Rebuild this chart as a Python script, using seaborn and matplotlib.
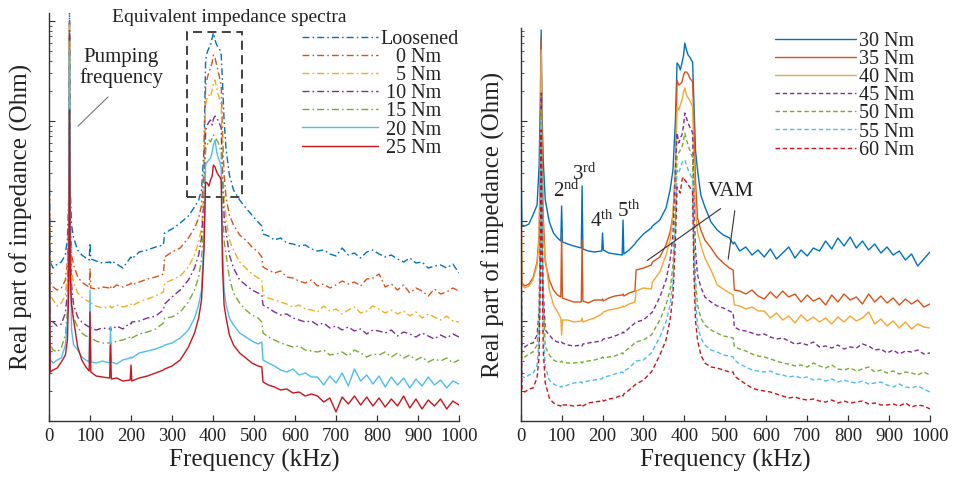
import numpy as np
import matplotlib
matplotlib.use("Agg")
import matplotlib.pyplot as plt
from matplotlib.patches import Rectangle
from matplotlib.ticker import LogLocator, NullFormatter, MultipleLocator
import seaborn as sns

# Frequency grids (kHz)
LEFT_FREQ = [0, 3, 10, 20, 30, 40, 45, 48, 50, 52,
             55, 60, 70, 80, 90, 98, 100, 102, 115, 130,
             148, 150, 152, 165, 180, 198, 200, 202, 220, 240,
             260, 279, 282, 300, 320, 340, 355, 365, 372, 378,
             382, 386, 390, 394, 398, 401, 405, 409, 413, 417,
             420, 423, 427, 432, 440, 450, 465, 480, 495, 510,
             519, 522, 535, 550, 565, 580, 595, 610, 625, 640,
             655, 670, 685, 700, 715, 730, 745, 760, 775, 790,
             805, 820, 835, 850, 865, 880, 895, 910, 925, 940,
             955, 970, 985, 1000]

RIGHT_FREQ = [0, 3, 10, 20, 30, 40, 45, 48, 50, 52,
              55, 60, 70, 80, 90, 98, 100, 102, 115, 130,
              148, 150, 152, 165, 180, 198, 200, 202, 215, 230,
              248, 250, 252, 265, 279, 282, 300, 319, 322, 340,
              355, 365, 372, 378, 382, 386, 390, 394, 398, 401,
              405, 409, 413, 417, 420, 423, 427, 432, 440, 450,
              465, 480, 495, 510, 519, 522, 535, 550, 565, 580,
              595, 610, 625, 640, 655, 670, 685, 700, 715, 730,
              745, 760, 775, 790, 805, 820, 835, 850, 865, 880,
              895, 910, 925, 940, 955, 970, 985, 1000]

# log10 of the real part of impedance (Ohm)
loosened = [2.91, 1.59, 1.53, 1.57, 1.59, 1.66, 1.83, 2.21, 4.11, 2.31,
            1.96, 1.83, 1.71, 1.66, 1.63, 1.61, 1.78, 1.62, 1.60, 1.58,
            1.59, 1.58, 1.60, 1.57, 1.53, 1.63, 1.64, 1.62, 1.69, 1.71,
            1.74, 1.76, 1.88, 1.92, 1.98, 2.05, 2.14, 2.21, 2.31, 2.71,
            3.61, 3.69, 3.73, 3.76, 3.83, 3.88, 3.81, 3.76, 3.74, 3.71,
            3.66, 3.41, 3.01, 2.71, 2.46, 2.31, 2.21, 2.13, 2.06, 1.99,
            1.95, 1.87, 1.85, 1.81, 1.83, 1.78, 1.77, 1.75, 1.76, 1.72,
            1.70, 1.71, 1.67, 1.65, 1.73, 1.66, 1.68, 1.63, 1.69, 1.71,
            1.67, 1.64, 1.66, 1.62, 1.59, 1.63, 1.58, 1.59, 1.53, 1.55,
            1.56, 1.53, 1.57, 1.48]
nm_0 = [2.81, 1.39, 1.34, 1.31, 1.33, 1.41, 1.59, 2.01, 4.01, 2.06,
        1.66, 1.56, 1.44, 1.39, 1.36, 1.34, 1.53, 1.33, 1.32, 1.34,
        1.33, 1.35, 1.32, 1.36, 1.34, 1.37, 1.38, 1.36, 1.39, 1.42,
        1.44, 1.47, 1.64, 1.69, 1.73, 1.83, 1.93, 2.03, 2.16, 2.51,
        3.36, 3.43, 3.49, 3.53, 3.59, 3.66, 3.63, 3.56, 3.49, 3.41,
        3.36, 2.91, 2.46, 2.23, 2.06, 1.96, 1.86, 1.81, 1.74, 1.69,
        1.64, 1.54, 1.51, 1.48, 1.50, 1.44, 1.43, 1.40, 1.38, 1.41,
        1.35, 1.37, 1.33, 1.36, 1.40, 1.37, 1.39, 1.35, 1.42, 1.43,
        1.47, 1.34, 1.37, 1.31, 1.36, 1.28, 1.33, 1.30, 1.25, 1.32,
        1.27, 1.29, 1.33, 1.30]
nm_5 = [2.71, 1.26, 1.21, 1.15, 1.18, 1.26, 1.46, 1.91, 3.96, 1.96,
        1.51, 1.38, 1.28, 1.24, 1.21, 1.19, 1.21, 1.18, 1.15, 1.13,
        1.14, 1.15, 1.13, 1.16, 1.14, 1.16, 1.17, 1.15, 1.19, 1.22,
        1.25, 1.29, 1.38, 1.41, 1.45, 1.54, 1.66, 1.79, 1.93, 2.31,
        3.16, 3.23, 3.26, 3.24, 3.31, 3.38, 3.41, 3.33, 3.26, 3.21,
        3.16, 2.61, 2.21, 2.03, 1.81, 1.71, 1.59, 1.53, 1.47, 1.43,
        1.41, 1.26, 1.23, 1.21, 1.19, 1.17, 1.14, 1.16, 1.12, 1.11,
        1.09, 1.15, 1.10, 1.12, 1.07, 1.11, 1.14, 1.08, 1.10, 1.15,
        1.12, 1.08, 1.11, 1.07, 1.10, 1.05, 1.09, 1.03, 1.07, 1.04,
        1.01, 1.05, 1.00, 0.99]
nm_10 = [2.61, 1.03, 0.99, 0.95, 0.97, 1.08, 1.29, 1.81, 3.91, 1.86,
         1.36, 1.16, 1.04, 0.99, 0.96, 0.94, 0.96, 0.93, 0.91, 0.93,
         0.92, 0.94, 0.91, 0.95, 0.92, 0.98, 0.97, 0.99, 1.00, 1.03,
         1.05, 1.11, 1.17, 1.24, 1.31, 1.41, 1.53, 1.66, 1.83, 2.21,
         2.91, 2.96, 2.99, 3.01, 2.96, 3.02, 3.05, 3.03, 3.00, 2.96,
         2.93, 2.41, 2.06, 1.89, 1.66, 1.53, 1.41, 1.36, 1.31, 1.28,
         1.26, 1.16, 1.13, 1.09, 1.06, 1.07, 1.03, 1.01, 0.99, 1.00,
         0.96, 0.98, 0.93, 0.95, 0.91, 0.94, 0.90, 0.92, 0.87, 0.91,
         0.90, 0.88, 0.91, 0.85, 0.89, 0.87, 0.84, 0.88, 0.85, 0.82,
         0.86, 0.83, 0.87, 0.84]
nm_15 = [2.51, 0.76, 0.71, 0.69, 0.73, 0.86, 1.11, 1.71, 3.81, 1.76,
         1.21, 1.03, 0.94, 0.88, 0.85, 0.84, 0.85, 0.83, 0.80, 0.78,
         0.78, 0.79, 0.77, 0.80, 0.81, 0.84, 0.85, 0.83, 0.87, 0.89,
         0.92, 0.98, 1.03, 1.04, 1.09, 1.19, 1.31, 1.44, 1.61, 2.01,
         2.71, 2.76, 2.81, 2.79, 2.83, 2.86, 2.84, 2.81, 2.78, 2.73,
         2.69, 2.21, 1.81, 1.66, 1.43, 1.28, 1.18, 1.11, 1.06, 1.03,
         0.99, 0.88, 0.84, 0.81, 0.78, 0.76, 0.74, 0.75, 0.71, 0.70,
         0.69, 0.71, 0.66, 0.67, 0.69, 0.65, 0.71, 0.68, 0.64, 0.67,
         0.66, 0.69, 0.64, 0.68, 0.63, 0.66, 0.61, 0.64, 0.59, 0.62,
         0.60, 0.63, 0.58, 0.61]
nm_20 = [2.41, 0.61, 0.58, 0.61, 0.63, 0.76, 1.01, 1.61, 3.71, 1.71,
         0.91, 0.76, 0.71, 0.64, 0.61, 0.59, 1.31, 0.59, 0.58, 0.60,
         0.58, 0.94, 0.59, 0.57, 0.61, 0.63, 0.64, 0.63, 0.68, 0.70,
         0.72, 0.75, 0.76, 0.78, 0.83, 0.91, 1.03, 1.16, 1.31, 1.81,
         2.56, 2.59, 2.61, 2.63, 2.69, 2.76, 2.81, 2.69, 2.63, 2.59,
         2.53, 1.81, 1.31, 1.16, 1.03, 0.96, 0.88, 0.84, 0.80, 0.77,
         0.79, 0.61, 0.58, 0.55, 0.51, 0.49, 0.52, 0.46, 0.48, 0.44,
         0.44, 0.36, 0.45, 0.38, 0.48, 0.35, 0.52, 0.40, 0.46, 0.37,
         0.45, 0.34, 0.44, 0.36, 0.43, 0.33, 0.42, 0.35, 0.44, 0.36,
         0.41, 0.33, 0.40, 0.37]
nm_25 = [2.31, 0.49, 0.51, 0.53, 0.59, 0.66, 0.81, 1.31, 3.11, 1.41,
         1.16, 1.01, 0.74, 0.61, 0.54, 0.50, 1.09, 0.49, 0.45, 0.44,
         0.43, 0.76, 0.42, 0.43, 0.40, 0.41, 0.56, 0.40, 0.43, 0.45,
         0.48, 0.51, 0.52, 0.55, 0.61, 0.74, 0.88, 1.03, 1.21, 1.71,
         2.39, 2.38, 2.35, 2.41, 2.45, 2.56, 2.54, 2.49, 2.46, 2.44,
         2.41, 1.56, 1.16, 1.03, 0.86, 0.76, 0.68, 0.63, 0.58, 0.55,
         0.54, 0.39, 0.36, 0.34, 0.31, 0.32, 0.28, 0.29, 0.25, 0.27,
         0.25, 0.19, 0.23, 0.09, 0.24, 0.17, 0.25, 0.16, 0.24, 0.15,
         0.23, 0.14, 0.22, 0.15, 0.25, 0.13, 0.22, 0.12, 0.21, 0.15,
         0.22, 0.12, 0.20, 0.16]

nm_30 = [2.76, 1.96, 1.95, 1.97, 2.06, 2.16, 2.56, 3.21, 3.91, 3.11,
         2.61, 2.21, 1.99, 1.88, 1.83, 1.80, 2.15, 1.79, 1.77, 1.75,
         1.73, 2.35, 1.72, 1.70, 1.69, 1.70, 1.88, 1.71, 1.68, 1.67,
         1.66, 2.01, 1.67, 1.71, 1.77, 1.79, 1.87, 1.93, 1.95, 2.01,
         2.13, 2.31, 2.51, 3.01, 3.58, 3.56, 3.51, 3.58, 3.66, 3.78,
         3.71, 3.66, 3.64, 3.61, 3.59, 3.21, 2.71, 2.51, 2.26, 2.14,
         1.99, 1.91, 1.86, 1.83, 1.77, 1.79, 1.70, 1.74, 1.66, 1.71,
         1.64, 1.72, 1.62, 1.68, 1.74, 1.63, 1.71, 1.65, 1.73, 1.70,
         1.80, 1.72, 1.83, 1.75, 1.84, 1.73, 1.80, 1.71, 1.77, 1.68,
         1.74, 1.66, 1.70, 1.61, 1.67, 1.55, 1.62, 1.69]
nm_35 = [2.71, 1.38, 1.35, 1.37, 1.43, 1.59, 1.86, 2.71, 3.83, 2.81,
         2.06, 1.59, 1.41, 1.31, 1.26, 1.24, 1.88, 1.23, 1.21, 1.19,
         1.19, 1.81, 1.20, 1.18, 1.21, 1.21, 1.22, 1.20, 1.23, 1.25,
         1.26, 1.27, 1.25, 1.28, 1.30, 1.51, 1.53, 1.56, 1.59, 1.64,
         1.76, 1.89, 2.06, 2.51, 3.41, 3.36, 3.37, 3.39, 3.46, 3.49,
         3.49, 3.47, 3.43, 3.41, 3.39, 3.01, 2.41, 2.03, 1.91, 1.81,
         1.73, 1.64, 1.58, 1.53, 1.51, 1.31, 1.30, 1.27, 1.31, 1.25,
         1.22, 1.29, 1.23, 1.30, 1.24, 1.27, 1.19, 1.26, 1.20, 1.23,
         1.16, 1.26, 1.19, 1.27, 1.21, 1.24, 1.17, 1.27, 1.19, 1.25,
         1.18, 1.23, 1.16, 1.22, 1.17, 1.21, 1.14, 1.17]
nm_40 = [2.71, 1.36, 1.33, 1.35, 1.41, 1.56, 1.81, 2.51, 3.71, 2.61,
         1.86, 1.63, 1.31, 1.16, 1.09, 1.03, 0.86, 1.01, 1.01, 0.99,
         1.00, 1.03, 0.99, 1.01, 1.03, 1.07, 1.08, 1.09, 1.11, 1.12,
         1.14, 1.15, 1.14, 1.17, 1.19, 1.30, 1.33, 1.32, 1.39, 1.49,
         1.66, 1.81, 2.06, 2.51, 3.14, 3.11, 3.16, 3.21, 3.29, 3.33,
         3.26, 3.23, 3.21, 3.17, 3.14, 2.61, 2.11, 1.89, 1.76, 1.63,
         1.51, 1.36, 1.32, 1.28, 1.26, 1.16, 1.15, 1.12, 1.14, 1.10,
         1.10, 1.03, 1.08, 1.01, 1.05, 0.98, 1.06, 1.00, 1.04, 0.99,
         1.03, 0.97, 1.04, 0.99, 1.05, 1.00, 1.03, 1.09, 0.97, 1.02,
         0.95, 1.00, 0.93, 0.99, 0.92, 0.97, 0.94, 0.93]
nm_45 = [2.61, 0.76, 0.74, 0.77, 0.78, 0.86, 1.11, 2.01, 3.28, 2.21,
         1.31, 0.91, 0.86, 0.81, 0.79, 0.78, 0.79, 0.78, 0.76, 0.75,
         0.76, 0.75, 0.77, 0.78, 0.79, 0.80, 0.81, 0.82, 0.83, 0.85,
         0.88, 0.89, 0.88, 0.93, 0.98, 0.99, 1.01, 1.08, 1.09, 1.24,
         1.41, 1.61, 1.86, 2.51, 2.88, 2.78, 2.83, 2.86, 2.96, 3.08,
         3.03, 2.98, 2.94, 2.91, 2.88, 2.21, 1.71, 1.46, 1.34, 1.24,
         1.19, 1.15, 1.13, 1.10, 1.08, 0.94, 0.91, 0.90, 0.88, 0.86,
         0.87, 0.84, 0.82, 0.83, 0.80, 0.77, 0.78, 0.76, 0.79, 0.74,
         0.75, 0.73, 0.76, 0.72, 0.74, 0.73, 0.77, 0.75, 0.71, 0.72,
         0.68, 0.71, 0.67, 0.70, 0.69, 0.71, 0.67, 0.68]
nm_50 = [2.51, 0.66, 0.64, 0.67, 0.69, 0.76, 1.01, 1.81, 3.11, 2.01,
         1.21, 0.74, 0.66, 0.61, 0.59, 0.59, 0.60, 0.59, 0.58, 0.58,
         0.59, 0.58, 0.59, 0.60, 0.61, 0.63, 0.64, 0.63, 0.64, 0.65,
         0.68, 0.67, 0.69, 0.73, 0.78, 0.79, 0.81, 0.86, 0.88, 1.01,
         1.16, 1.31, 1.56, 2.21, 2.64, 2.68, 2.71, 2.74, 2.81, 2.88,
         2.81, 2.76, 2.71, 2.66, 2.64, 1.91, 1.41, 1.16, 1.03, 0.96,
         0.91, 0.88, 0.85, 0.84, 0.83, 0.74, 0.72, 0.70, 0.67, 0.65,
         0.64, 0.62, 0.60, 0.58, 0.57, 0.55, 0.56, 0.54, 0.58, 0.55,
         0.53, 0.56, 0.52, 0.51, 0.53, 0.50, 0.52, 0.54, 0.49, 0.51,
         0.48, 0.50, 0.47, 0.49, 0.48, 0.46, 0.49, 0.46]
nm_55 = [2.41, 0.45, 0.43, 0.46, 0.47, 0.56, 0.81, 1.61, 3.01, 1.81,
         0.91, 0.54, 0.41, 0.37, 0.35, 0.34, 0.35, 0.34, 0.36, 0.38,
         0.39, 0.38, 0.39, 0.40, 0.41, 0.42, 0.43, 0.44, 0.45, 0.47,
         0.49, 0.48, 0.50, 0.53, 0.59, 0.60, 0.61, 0.68, 0.70, 0.84,
         0.99, 1.16, 1.41, 2.01, 2.51, 2.48, 2.53, 2.58, 2.61, 2.61,
         2.56, 2.51, 2.48, 2.44, 2.41, 1.66, 1.21, 0.96, 0.83, 0.76,
         0.71, 0.69, 0.66, 0.65, 0.64, 0.61, 0.57, 0.54, 0.51, 0.50,
         0.49, 0.50, 0.47, 0.46, 0.44, 0.45, 0.43, 0.44, 0.41, 0.42,
         0.40, 0.42, 0.39, 0.41, 0.39, 0.38, 0.40, 0.37, 0.38, 0.39,
         0.36, 0.34, 0.37, 0.34, 0.33, 0.35, 0.32, 0.29]
nm_60 = [2.31, 0.31, 0.29, 0.32, 0.33, 0.43, 0.66, 1.41, 2.91, 1.61,
         0.71, 0.38, 0.23, 0.18, 0.16, 0.15, 0.17, 0.16, 0.16, 0.15,
         0.16, 0.17, 0.15, 0.18, 0.19, 0.20, 0.21, 0.20, 0.22, 0.23,
         0.26, 0.25, 0.27, 0.31, 0.36, 0.37, 0.41, 0.49, 0.51, 0.66,
         0.81, 1.01, 1.26, 1.81, 2.34, 2.31, 2.28, 2.41, 2.44, 2.41,
         2.39, 2.36, 2.34, 2.31, 2.29, 1.51, 1.01, 0.81, 0.66, 0.58,
         0.54, 0.53, 0.51, 0.49, 0.49, 0.45, 0.41, 0.37, 0.33, 0.31,
         0.30, 0.29, 0.27, 0.25, 0.23, 0.24, 0.22, 0.21, 0.22, 0.20,
         0.19, 0.21, 0.18, 0.20, 0.18, 0.19, 0.20, 0.17, 0.18, 0.16,
         0.16, 0.17, 0.15, 0.18, 0.14, 0.16, 0.15, 0.12]

LEFT_LABELS = ["Loosened", "   0 Nm", "   5 Nm", " 10 Nm", " 15 Nm", " 20 Nm", " 25 Nm"]
RIGHT_LABELS = ["30 Nm", "35 Nm", "40 Nm", "45 Nm", "50 Nm", "55 Nm", "60 Nm"]

W, H = 955, 479
DASHDOT = (0, (5, 2.2, 1.2, 2.2))
DASHED = (0, (3.2, 2.0))
SOLID = "-"


def px(x, y):
    """Pixel position in the reference -> figure fraction."""
    return x / W, 1 - y / H


def style_axes(ax, ytop):
    ax.set_yscale("log")
    ax.set_xlim(0, 1000)
    ax.set_ylim(1, 10 ** ytop)
    ax.xaxis.set_major_locator(MultipleLocator(100))
    ax.yaxis.set_major_locator(LogLocator(base=10))
    ax.yaxis.set_minor_locator(LogLocator(base=10, subs=np.arange(2, 10)))
    ax.yaxis.set_major_formatter(NullFormatter())
    ax.yaxis.set_minor_formatter(NullFormatter())
    for side in ("top", "right"):
        ax.spines[side].set_visible(False)
    for side in ("left", "bottom"):
        ax.spines[side].set_color("#333333")
        ax.spines[side].set_linewidth(1.0)
    ax.tick_params(axis="x", direction="in", length=4, width=0.9, pad=5,
                   labelsize=13.5, colors="#333333", labelcolor="#222222")
    ax.tick_params(axis="y", which="major", direction="in", length=4, width=0.8, colors="#333333")
    ax.tick_params(axis="y", which="minor", direction="in", length=2.5, width=0.6, colors="#333333")
    ax.set_xlabel("Frequency (kHz)", fontsize=18, labelpad=3, color="#222222")
    ax.set_ylabel("Real part of impedance (Ohm)", fontsize=18, labelpad=8, color="#222222")


def draw_series(ax, freq, series):
    for label, values, color, ls in series:
        sns.lineplot(x=freq, y=np.power(10.0, values), ax=ax, color=color,
                     linestyle=ls, linewidth=1.0, label=label, errorbar=None, sort=False)


def main():
    sns.set_style("ticks")
    plt.rcParams["font.family"] = ["Liberation Serif", "DejaVu Serif"]
    plt.rcParams["mathtext.fontset"] = "custom"
    plt.rcParams["mathtext.rm"] = "Liberation Serif"
    plt.rcParams["mathtext.it"] = "Liberation Serif:italic"

    fig = plt.figure(figsize=(W / 100, H / 100), dpi=100)
    ax_l = fig.add_axes([49 / W, 58 / H, 410 / W, 408 / H])
    ax_r = fig.add_axes([520.7 / W, 58 / H, 409.3 / W, 393 / H])

    left_series = [
        (LEFT_LABELS[0], loosened, "#0072BD", DASHDOT),
        (LEFT_LABELS[1], nm_0, "#D95319", DASHDOT),
        (LEFT_LABELS[2], nm_5, "#EDB120", DASHDOT),
        (LEFT_LABELS[3], nm_10, "#7E2F8E", DASHDOT),
        (LEFT_LABELS[4], nm_15, "#77AC30", DASHDOT),
        (LEFT_LABELS[5], nm_20, "#4DBEEE", SOLID),
        (LEFT_LABELS[6], nm_25, "#C8141E", SOLID),
    ]
    right_series = [
        (RIGHT_LABELS[0], nm_30, "#0072BD", SOLID),
        (RIGHT_LABELS[1], nm_35, "#D95319", SOLID),
        (RIGHT_LABELS[2], nm_40, "#F7A532", SOLID),
        (RIGHT_LABELS[3], nm_45, "#7E2F8E", DASHED),
        (RIGHT_LABELS[4], nm_50, "#77AC30", DASHED),
        (RIGHT_LABELS[5], nm_55, "#4DBEEE", DASHED),
        (RIGHT_LABELS[6], nm_60, "#C8141E", DASHED),
    ]

    draw_series(ax_l, LEFT_FREQ, left_series)
    draw_series(ax_r, RIGHT_FREQ, right_series)
    style_axes(ax_l, 4.08)
    style_axes(ax_r, 3.93)

    leg_kw = dict(frameon=False, fontsize=14.5, borderpad=0, borderaxespad=0,
                  handletextpad=0.15, labelspacing=-0.05, bbox_transform=fig.transFigure,
                  loc="upper left")
    leg = ax_l.legend(bbox_to_anchor=px(302, 30), handlelength=3.75, **leg_kw)
    leg2 = ax_r.legend(bbox_to_anchor=px(775, 32), handlelength=4.0, **leg_kw)
    for lg in (leg, leg2):
        for t in lg.get_texts():
            t.set_color("#222222")

    # left panel annotations
    fig.text(*px(229, 17), "Equivalent impedance spectra", fontsize=14,
             ha="center", va="center", color="#222222")
    fig.text(*px(121, 68), "Pumping\nfrequency", fontsize=15, ha="center",
             va="center", linespacing=1.1, color="#222222")
    ax_l.annotate("", xy=(66, 10 ** 2.93), xytext=(149, 10 ** 3.26),
                  arrowprops=dict(arrowstyle="-", color="#777777", lw=0.8))
    ax_l.add_patch(Rectangle((337, 10 ** 2.24), 134, 10 ** 3.89 - 10 ** 2.24,
                             fill=False, ec="#333333", lw=1.3, ls=(0, (5, 3))))

    # right panel annotations
    ordinals = [("2$^{\\mathrm{nd}}$", 553, 197), ("3$^{\\mathrm{rd}}$", 572, 180),
                ("4$^{\\mathrm{th}}$", 590, 227), ("5$^{\\mathrm{th}}$", 617, 217)]
    for txt, x, y in ordinals:
        fig.text(*px(x, y), txt, fontsize=15, ha="left", va="baseline", color="#222222")
    fig.text(*px(731, 192), "VAM", fontsize=15, ha="center", va="center", color="#222222")
    ax_r.annotate("", xy=(304, 10 ** 1.59), xytext=(494, 10 ** 2.14),
                  arrowprops=dict(arrowstyle="-", color="#333333", lw=0.8))
    ax_r.annotate("", xy=(506, 10 ** 1.59), xytext=(524, 10 ** 2.13),
                  arrowprops=dict(arrowstyle="-", color="#333333", lw=0.8))

    fig.savefig("out.png", dpi=100)
    plt.close(fig)


if __name__ == "__main__":
    main()
